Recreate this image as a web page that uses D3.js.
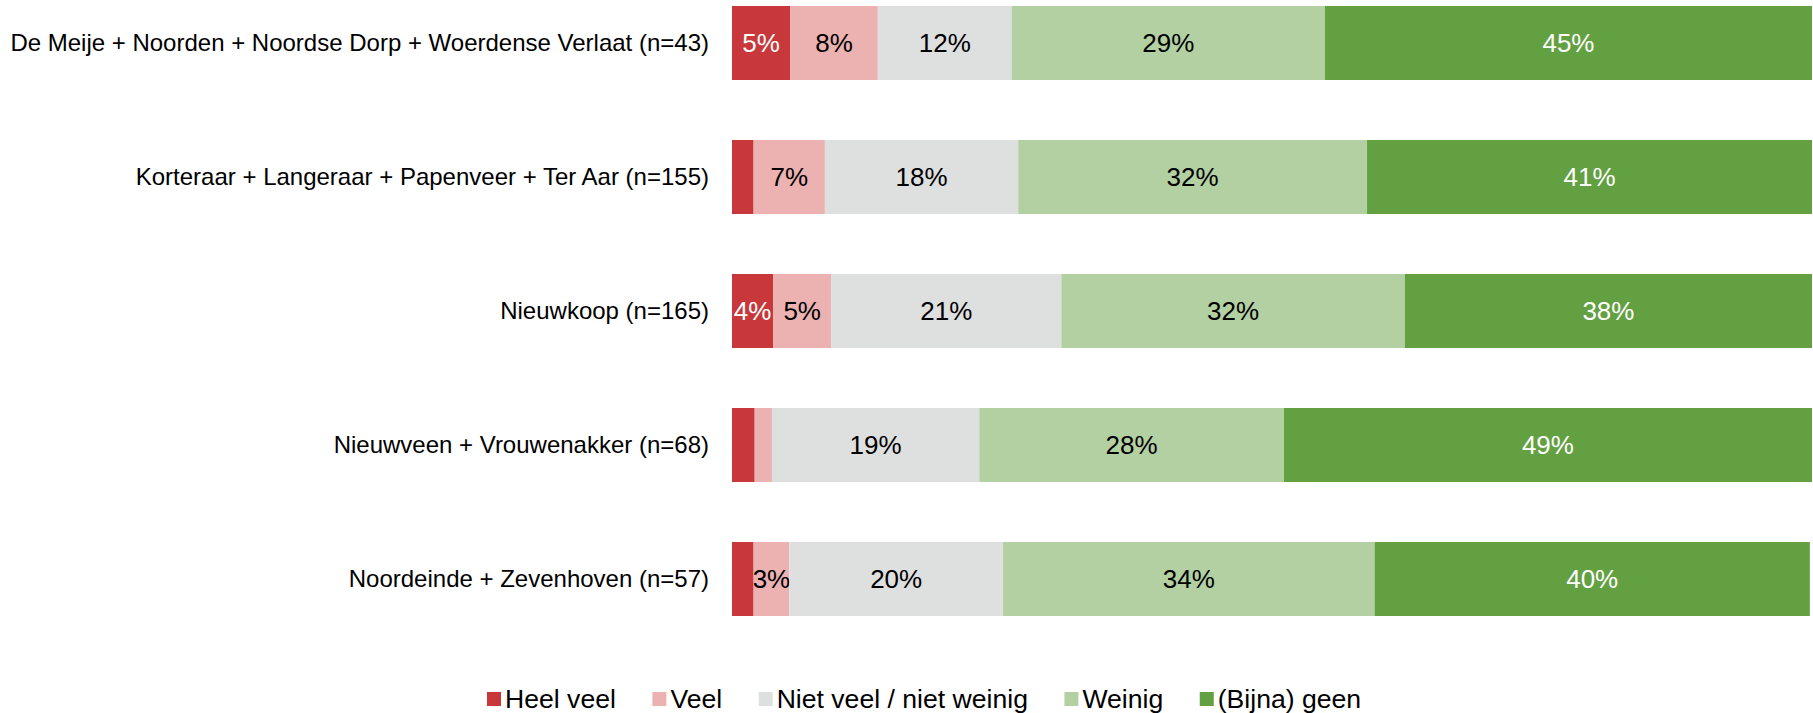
<!DOCTYPE html>
<html>
<head>
<meta charset="utf-8">
<script src="https://cdn.jsdelivr.net/npm/d3@7"></script>
<style>
    body { margin: 0; background: #fff; }
    svg { display: block; font-family: "Liberation Sans", Arial, sans-serif; }
</style>
</head>
<body>
<svg id="chart" width="1813" height="713"></svg>
<script>
// categories (top to bottom)
var areas = [
    "De Meije + Noorden + Noordse Dorp + Woerdense Verlaat (n=43)",
    "Korteraar + Langeraar + Papenveer + Ter Aar (n=155)",
    "Nieuwkoop (n=165)",
    "Nieuwveen + Vrouwenakker (n=68)",
    "Noordeinde + Zevenhoven (n=57)"
];

// answer categories
var answers = ["Heel veel", "Veel", "Niet veel / niet weinig", "Weinig", "(Bijna) geen"];

// percentages per answer, one value per area
var heelVeel = [5.4, 2.0, 3.8, 2.1, 2.0];
var veel     = [8.1, 6.6, 5.4, 1.6, 3.3];
var nietVeel = [12.4, 17.9, 21.3, 19.2, 19.8];
var weinig   = [29.0, 32.3, 31.8, 28.2, 34.4];
var geen     = [45.1, 41.2, 37.7, 48.9, 40.3];

var colors = ["#c8383a", "#ebb2b1", "#dedfdf", "#b3d0a3", "#63a042"];
var labelColors = ["#fff", "#000", "#000", "#000", "#fff"];

// build rows for the stack
var data = areas.map(function (a, i) {
    return {
        area: a,
        "Heel veel": heelVeel[i],
        "Veel": veel[i],
        "Niet veel / niet weinig": nietVeel[i],
        "Weinig": weinig[i],
        "(Bijna) geen": geen[i]
    };
});

var series = d3.stack().keys(answers)(data);

var svg = d3.select("#chart");

var xScale = d3.scaleLinear()
    .domain([0, 100])
    .range([732, 1812]);

var yScale = d3.scaleBand()
    .domain(areas)
    .range([6, 616])
    .paddingInner(0.4478)
    .paddingOuter(0);

// stacked segments
var layers = svg.selectAll("g.layer")
    .data(series)
    .enter()
    .append("g")
    .attr("class", "layer")
    .attr("fill", function (d, i) { return colors[i]; });

layers.selectAll("rect")
    .data(function (d) { return d; })
    .enter()
    .append("rect")
    .attr("x", function (d) { return xScale(d[0]); })
    .attr("y", function (d) { return yScale(d.data.area); })
    .attr("width", function (d) { return xScale(d[1]) - xScale(d[0]); })
    .attr("height", yScale.bandwidth());

// value labels, only where the rounded value is 3% or more
layers.each(function (s, i) {
    d3.select(this).selectAll("text")
        .data(s.filter(function (d) { return Math.round(d.data[answers[i]]) >= 3; }))
        .enter()
        .append("text")
        .attr("x", function (d) { return (xScale(d[0]) + xScale(d[1])) / 2; })
        .attr("y", function (d) { return yScale(d.data.area) + yScale.bandwidth() / 2; })
        .attr("dy", "0.35em")
        .attr("text-anchor", "middle")
        .attr("fill", labelColors[i])
        .style("font-size", "26px")
        .text(function (d) { return Math.round(d.data[answers[i]]) + "%"; });
});

// category axis on the left, no line or ticks
var yAxis = d3.axisLeft(yScale)
    .tickSize(0)
    .tickPadding(0);

svg.append("g")
    .attr("transform", "translate(709,0)")
    .call(yAxis)
    .call(function (g) { g.select(".domain").remove(); })
    .selectAll("text")
    .attr("fill", "#000")
    .style("font-family", "'Liberation Sans', Arial, sans-serif")
    .style("font-size", "24px");

// legend
var legend = svg.append("g").attr("class", "legend");
var lx = 487;
answers.forEach(function (a, i) {
    var item = legend.append("g").attr("transform", "translate(" + lx + ",0)");
    item.append("rect")
        .attr("x", 0)
        .attr("y", 692)
        .attr("width", 14)
        .attr("height", 14)
        .attr("fill", colors[i]);
    var t = item.append("text")
        .attr("x", 18)
        .attr("y", 699)
        .attr("dy", "0.35em")
        .attr("fill", "#000")
        .style("font-size", "26.6px")
        .text(a);
    lx += 18 + t.node().getComputedTextLength() + 36.5;
});
</script>
</body>
</html>
